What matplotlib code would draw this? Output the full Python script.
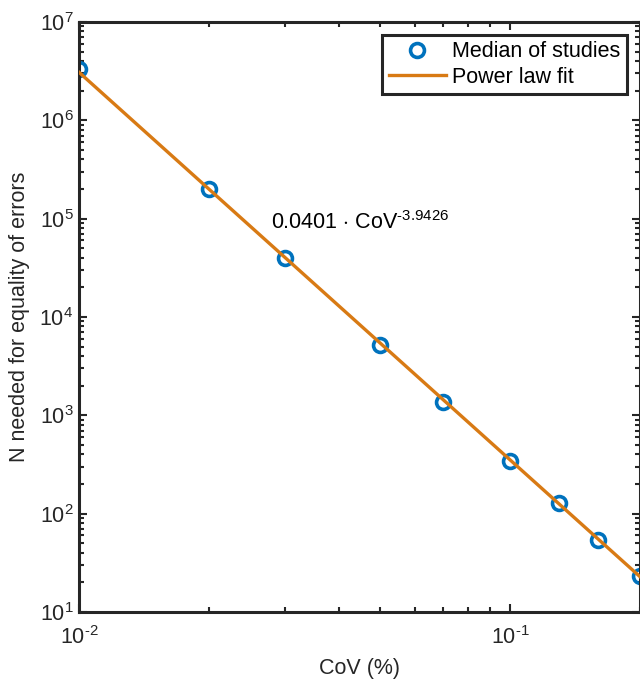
import numpy as np
import matplotlib
matplotlib.use('Agg')
import matplotlib.pyplot as plt
from matplotlib.ticker import LogLocator, NullFormatter, FuncFormatter

plt.rcParams['font.family'] = ['Liberation Sans', 'DejaVu Sans']
plt.rcParams['mathtext.fontset'] = 'custom'
plt.rcParams['mathtext.rm'] = 'Liberation Sans'
plt.rcParams['mathtext.it'] = 'Liberation Sans'

# Median of studies
cov = [0.01, 0.02, 0.03, 0.05, 0.07, 0.1, 0.13, 0.16, 0.2]
n_needed = [3.3e6, 2.0e5, 4.0e4, 5.2e3, 1.38e3, 345, 128, 54, 23]

# power law fit coefficients (as in the annotation)
fit_a = 0.0401
fit_b = -3.9426
fit_x = [0.01, 0.2]

blue = '#0072BD'
orange = '#D87A14'
dark = '#262626'
fs = 15.5


def pow10(v, pos):
    e = int(round(np.log10(v)))
    s = str(e).replace('-', '\u2010')
    return r'$\mathregular{10^{%s}}$' % s


fig = plt.figure(figsize=(6.4, 6.79), dpi=100)
ax = fig.add_axes([0.1234, 0.0987, 0.8766, 0.869])

ax.plot(cov, n_needed, 'o', mfc='none', mec=blue, mew=2.6, ms=10, label='Median of studies', zorder=2)
fx = np.array(fit_x)
ax.plot(fx, fit_a * fx ** fit_b, '-', color=orange, lw=2.4, label='Power law fit', zorder=3)

ax.set_xscale('log')
ax.set_yscale('log')
ax.set_xlim(0.01, 0.2)
ax.set_ylim(10, 1e7)

ax.yaxis.set_major_locator(LogLocator(base=10, numticks=10))
ax.yaxis.set_minor_locator(LogLocator(base=10, subs=np.arange(2, 10), numticks=10))
ax.yaxis.set_minor_formatter(NullFormatter())
ax.xaxis.set_minor_formatter(NullFormatter())
ax.xaxis.set_major_formatter(FuncFormatter(pow10))
ax.yaxis.set_major_formatter(FuncFormatter(pow10))

ax.tick_params(which='both', direction='in', top=True, right=True, labelsize=fs, colors=dark)
ax.tick_params(which='major', length=6, width=1.5)
ax.tick_params(which='minor', length=3.5, width=1.5)
ax.tick_params(axis='x', pad=10)
ax.tick_params(axis='y', pad=4)
for s in ax.spines.values():
    s.set_linewidth(2.2)
    s.set_color(dark)

ax.set_xlabel('CoV (%)', fontsize=fs, color=dark, labelpad=7)
ax.set_ylabel('N needed for equality of errors', fontsize=fs, color=dark, labelpad=7)

ax.text(0.0279, 9.2e4, '0.0401 $\\cdot$ CoV$^{\u20103.9426}$', fontsize=fs, va='center', ha='left')

leg = ax.legend(loc='upper right', fontsize=fs, fancybox=False, framealpha=1,
                edgecolor=dark, borderpad=0.3, handlelength=2.65, labelspacing=0.2,
                borderaxespad=0.6, handletextpad=0.3)
leg.get_frame().set_linewidth(2.2)

fig.savefig('out.png', dpi=100)
